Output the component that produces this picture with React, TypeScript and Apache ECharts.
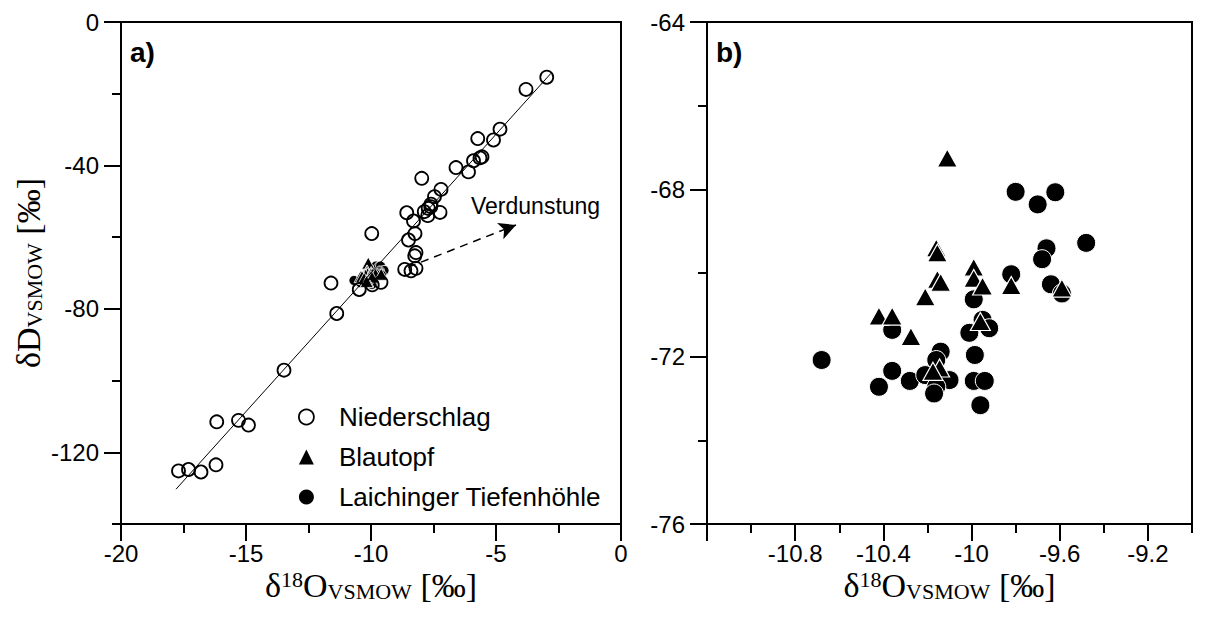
import React, { useEffect, useRef } from "react";
import * as echarts from "echarts";

const SANS = "'Liberation Sans', Arial, sans-serif";
const SERIF = "'Liberation Serif', 'Times New Roman', serif";

// Niederschlag (precipitation), panel a: [δ18O, δD]
const niederschlag: [number, number][] = [
  [-2.97, -15.4], [-3.8, -18.8], [-4.84, -29.9], [-5.1, -32.9], [-5.73, -32.5],
  [-5.56, -37.6], [-5.64, -37.9], [-5.9, -38.7], [-6.6, -40.6], [-6.1, -41.8],
  [-7.97, -43.6], [-7.2, -46.7], [-7.46, -48.7], [-7.6, -50.8], [-7.61, -51.5],
  [-7.71, -52.0], [-7.24, -53.1], [-7.87, -52.9], [-7.73, -54.0], [-8.57, -53.2],
  [-8.3, -55.5], [-8.24, -59.0], [-9.97, -59.0], [-8.5, -60.8], [-8.2, -64.3],
  [-8.25, -65.2], [-8.2, -68.7], [-8.4, -69.4], [-8.65, -69.0], [-9.6, -72.6],
  [-9.95, -73.3], [-10.47, -74.6], [-11.6, -72.8], [-11.37, -81.3], [-13.48, -97.1],
  [-16.17, -111.5], [-15.3, -111.1], [-14.9, -112.4], [-17.7, -125.2], [-17.3, -124.8],
  [-16.8, -125.5], [-16.2, -123.5],
];

// Blautopf (spring)
const blautopf: [number, number][] = [
  [-10.11, -67.25], [-10.16, -69.4], [-10.155, -69.52], [-10.155, -70.15], [-10.14, -70.22],
  [-10.21, -70.57], [-9.99, -69.86], [-9.99, -70.13], [-9.95, -70.31], [-9.82, -70.3],
  [-9.59, -70.36], [-9.96, -71.16], [-10.42, -71.03], [-10.36, -71.03], [-10.275, -71.52],
  [-10.145, -72.27], [-10.175, -72.35],
];

// Laichinger Tiefenhöhle (cave)
const laichinger: [number, number][] = [
  [-9.8, -68.06], [-9.7, -68.36], [-9.62, -68.07], [-9.48, -69.28], [-9.66, -69.41],
  [-9.68, -69.67], [-9.82, -70.03], [-9.64, -70.27], [-9.59, -70.49], [-9.99, -70.63],
  [-9.95, -71.12], [-10.01, -71.43], [-9.92, -71.32], [-10.68, -72.08], [-10.36, -72.34],
  [-10.42, -72.72], [-10.28, -72.58], [-10.36, -71.36], [-10.14, -71.88], [-10.21, -72.44],
  [-10.16, -72.08], [-10.1, -72.56], [-10.16, -72.72], [-10.17, -72.88], [-9.985, -71.96],
  [-9.99, -72.58], [-9.94, -72.58], [-9.96, -73.16],
];

// meteoric water line endpoints
const waterLine: [number, number][] = [[-17.8, -130.3], [-2.8, -14.3]];
// evaporation arrow
const arrowStart: [number, number] = [-8.52, -68.4];
const arrowEnd: [number, number] = [-4.2, -56.6];

const aYLabels = [-120, -80, -40, 0];
const aYMinor = [-140, -100, -60, -20];
const bXLabels = [-10.8, -10.4, -10, -9.6, -9.2];
const bXMajor = [-11.2, -10.8, -10.4, -10, -9.6, -9.2];
const bXMinor = [-11.0, -10.6, -10.2, -9.8, -9.4, -9.0];

const names = ["Niederschlag", "Blautopf", "Laichinger Tiefenhöhle"];

const BLACK = "#000";
const lineW = 2;

const xName = "{d|δ}{sup|18}{m|O}{sub|VSMOW}{m| [‰]}";
const yName = "{m|δD}{sub|VSMOW}{m| [‰]}";
const rich = {
  d: { fontFamily: SERIF, fontSize: 34, lineHeight: 34, color: BLACK },
  m: { fontFamily: SERIF, fontSize: 34, lineHeight: 34, color: BLACK },
  sup: { fontFamily: SERIF, fontSize: 22, lineHeight: 20, verticalAlign: "top", color: BLACK },
  sub: { fontFamily: SERIF, fontSize: 22, lineHeight: 20, verticalAlign: "bottom", color: BLACK },
};

const labelStyle = { color: BLACK, fontSize: 24, fontFamily: SANS };
const axisLine = { show: true, onZero: false, lineStyle: { color: BLACK, width: lineW } };
const noLine = { show: false, onZero: false };

export default function App() {
  const ref = useRef<HTMLDivElement>(null);
  useEffect(() => {
    if (!ref.current) return;
    const chart = echarts.init(ref.current, null, { renderer: "svg" });
    const option: any = {
      animation: false,
      backgroundColor: "#fff",
      grid: [
        { left: 121, top: 22, width: 500, height: 502, show: true, borderColor: BLACK, borderWidth: lineW },
        { left: 707, top: 22, width: 485, height: 502, show: true, borderColor: BLACK, borderWidth: lineW },
        { left: 121, top: 22, width: 500, height: 502, show: false },
        { left: 707, top: 22, width: 485, height: 502, show: false },
      ],
      xAxis: [
        {
          gridIndex: 0, type: "value", min: -20, max: 0, interval: 5,
          axisLine, splitLine: { show: false },
          axisTick: { show: true, length: 17, lineStyle: { color: BLACK, width: lineW } },
          minorTick: { show: true, splitNumber: 2, length: 9, lineStyle: { color: BLACK, width: lineW } },
          axisLabel: { ...labelStyle, margin: 17 },
          name: xName, nameLocation: "middle", nameGap: 44, nameMoveOverlap: false,
          nameTextStyle: { rich },
        },
        {
          gridIndex: 1, type: "value", min: -11.2, max: -9.0,
          axisLine, splitLine: { show: false },
          axisTick: { show: true, length: 17, customValues: bXMajor, lineStyle: { color: BLACK, width: lineW } },
          axisLabel: { ...labelStyle, margin: 17, customValues: bXLabels },
          name: xName, nameLocation: "middle", nameGap: 44, nameMoveOverlap: false,
          nameTextStyle: { rich },
        },
        { gridIndex: 2, type: "value", min: -20, max: 0, show: false, axisLine: noLine },
        {
          gridIndex: 3, type: "value", min: -11.2, max: -9.0, position: "bottom",
          axisLine: noLine, axisLabel: { show: false }, splitLine: { show: false },
          axisTick: { show: true, length: 9, customValues: bXMinor, lineStyle: { color: BLACK, width: lineW } },
        },
      ],
      yAxis: [
        {
          gridIndex: 0, type: "value", min: -140, max: 0,
          axisLine, splitLine: { show: false },
          axisTick: { show: true, length: 17, customValues: aYLabels, lineStyle: { color: BLACK, width: lineW } },
          axisLabel: { ...labelStyle, margin: 22, customValues: aYLabels },
          name: yName, nameLocation: "middle", nameGap: 76, nameRotate: 90, nameMoveOverlap: false,
          nameTextStyle: { rich },
        },
        {
          gridIndex: 1, type: "value", min: -76, max: -64, interval: 4,
          axisLine, splitLine: { show: false },
          axisTick: { show: true, length: 17, lineStyle: { color: BLACK, width: lineW } },
          minorTick: { show: true, splitNumber: 2, length: 9, lineStyle: { color: BLACK, width: lineW } },
          axisLabel: { ...labelStyle, margin: 22 },
        },
        {
          gridIndex: 2, type: "value", min: -140, max: 0, position: "left",
          axisLine: noLine, axisLabel: { show: false }, splitLine: { show: false },
          axisTick: { show: true, length: 9, customValues: aYMinor, lineStyle: { color: BLACK, width: lineW } },
        },
        { gridIndex: 3, type: "value", min: -76, max: -64, show: false, axisLine: noLine },
      ],
      legend: {
        left: 293, top: 398, orient: "vertical",
        itemWidth: 15, itemHeight: 15, itemGap: 12,
        selectedMode: false,
        textStyle: { color: BLACK, fontSize: 26, fontFamily: SANS, lineHeight: 28, padding: [0, 0, 0, 20] },
        data: [
          { name: names[0], icon: "circle", itemStyle: { color: "rgba(0,0,0,0)", borderColor: BLACK, borderWidth: 1.8 } },
          { name: names[1], icon: "triangle", itemStyle: { color: BLACK, borderWidth: 0, opacity: 1 } },
          { name: names[2], icon: "circle", itemStyle: { color: BLACK, borderWidth: 0, opacity: 1 } },
        ],
      },
      graphic: [
        { type: "text", left: 130, top: 38, style: { text: "a)", font: `bold 28px ${SANS}`, fill: BLACK } },
        { type: "text", left: 716, top: 38, style: { text: "b)", font: `bold 28px ${SANS}`, fill: BLACK } },
        { type: "text", left: 471, top: 194, style: { text: "Verdunstung", font: `23px ${SANS}`, fill: BLACK } },
      ],
      series: [
        {
          type: "line", name: "line", xAxisIndex: 0, yAxisIndex: 0, data: waterLine,
          showSymbol: false, symbol: "none", silent: true,
          lineStyle: { color: BLACK, width: 1 },
          markLine: {
            silent: true, animation: false,
            symbol: ["none", "arrow"], symbolSize: [13, 17],
            label: { show: false },
            lineStyle: { color: BLACK, width: 1.5, type: [8, 6], opacity: 1 },
            data: [[{ coord: arrowStart }, { coord: arrowEnd }]],
          },
        },
        {
          type: "scatter", name: names[2], xAxisIndex: 0, yAxisIndex: 0, data: laichinger,
          symbol: "circle", symbolSize: 10,
          itemStyle: { color: BLACK, borderColor: "#fff", borderWidth: 0.8, opacity: 1 },
        },
        {
          type: "scatter", name: names[1], xAxisIndex: 0, yAxisIndex: 0, data: blautopf,
          symbol: "triangle", symbolSize: [13, 12],
          itemStyle: { color: BLACK, borderColor: "#fff", borderWidth: 0.8, opacity: 1 },
        },
        {
          type: "scatter", name: names[0], xAxisIndex: 0, yAxisIndex: 0, data: niederschlag,
          symbol: "circle", symbolSize: 13,
          itemStyle: { color: "rgba(0,0,0,0)", borderColor: BLACK, borderWidth: 1.8, opacity: 1 },
        },
        {
          type: "scatter", name: names[2], xAxisIndex: 1, yAxisIndex: 1, data: laichinger,
          symbol: "circle", symbolSize: 19,
          itemStyle: { color: BLACK, borderColor: "#fff", borderWidth: 1, opacity: 1 },
        },
        {
          type: "scatter", name: names[1], xAxisIndex: 1, yAxisIndex: 1, data: blautopf,
          symbol: "triangle", symbolSize: [20, 18],
          itemStyle: { color: BLACK, borderColor: "#fff", borderWidth: 1.2, opacity: 1 },
        },
      ],
    };
    chart.setOption(option);
    return () => chart.dispose();
  }, []);
  return (
    <div
      ref={ref}
      style={{ position: "fixed", left: 0, top: 0, width: 1208, height: 617, background: "#fff" }}
    />
  );
}
